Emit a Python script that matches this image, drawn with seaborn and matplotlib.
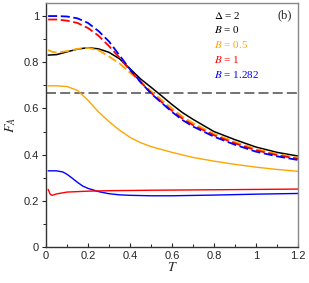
import numpy as np
import pandas as pd
import matplotlib
matplotlib.use("Agg")
import matplotlib.pyplot as plt
import seaborn as sns

# values
T_black = [0.01, 0.05, 0.1, 0.15, 0.2, 0.25, 0.3, 0.35, 0.4, 0.45, 0.5, 0.55,
           0.6, 0.65, 0.7, 0.8, 0.9, 1.0, 1.1, 1.2]
F_black = [0.831, 0.833, 0.845, 0.857, 0.863, 0.858, 0.843, 0.815, 0.772, 0.728,
           0.692, 0.655, 0.617, 0.582, 0.553, 0.5, 0.465, 0.433, 0.41, 0.394]

T_dash = [0.01, 0.05, 0.1, 0.15, 0.2, 0.25, 0.3, 0.35, 0.4, 0.45, 0.5, 0.55,
          0.6, 0.65, 0.7, 0.8, 0.9, 1.0, 1.1, 1.2]
F_blue_dash = [1.0, 1.0, 0.998, 0.99, 0.97, 0.935, 0.89, 0.83, 0.77, 0.715, 0.665,
               0.625, 0.585, 0.55, 0.522, 0.478, 0.443, 0.413, 0.393, 0.377]
F_red_dash = [0.985, 0.985, 0.98, 0.97, 0.948, 0.915, 0.87, 0.82, 0.765, 0.715,
              0.668, 0.628, 0.59, 0.556, 0.528, 0.484, 0.449, 0.419, 0.398, 0.382]

T_orange_dash = [0.01, 0.03, 0.05, 0.1, 0.15, 0.2, 0.25, 0.3, 0.35, 0.4, 0.45,
                 0.5, 0.55, 0.6, 0.65, 0.7, 0.8, 0.9, 1.0, 1.1, 1.2]
F_orange_dash = [0.853, 0.845, 0.842, 0.848, 0.858, 0.862, 0.852, 0.825, 0.795,
                 0.755, 0.715, 0.675, 0.638, 0.6, 0.565, 0.537, 0.49, 0.455,
                 0.425, 0.403, 0.387]

T_orange = [0.01, 0.05, 0.1, 0.15, 0.2, 0.25, 0.3, 0.35, 0.4, 0.45, 0.5, 0.6,
            0.7, 0.8, 0.9, 1.0, 1.1, 1.2]
F_orange = [0.698, 0.698, 0.695, 0.678, 0.635, 0.585, 0.543, 0.506, 0.475, 0.452,
            0.435, 0.41, 0.388, 0.372, 0.358, 0.346, 0.336, 0.328]

T_blue = [0.01, 0.05, 0.08, 0.1, 0.125, 0.15, 0.175, 0.2, 0.25, 0.3, 0.35, 0.4,
          0.5, 0.6, 0.8, 1.0, 1.2]
F_blue = [0.33, 0.33, 0.325, 0.315, 0.298, 0.28, 0.264, 0.254, 0.24, 0.231, 0.226,
          0.224, 0.222, 0.222, 0.225, 0.229, 0.232]

T_red = [0.01, 0.02, 0.03, 0.05, 0.1, 0.2, 0.3, 0.5, 0.8, 1.2]
F_red = [0.25, 0.228, 0.224, 0.23, 0.238, 0.242, 0.244, 0.246, 0.248, 0.251]

F_limit = 2 / 3

x_ticks = [0, 0.2, 0.4, 0.6, 0.8, 1.0, 1.2]
x_labels = ["0", "0.2", "0.4", "0.6", "0.8", "1", "1.2"]
y_ticks = [0, 0.2, 0.4, 0.6, 0.8, 1.0]
y_labels = ["0", "0.2", "0.4", "0.6", "0.8", "1"]

legend_lines = [(r"$\mathit{\Delta}$ = 2", "black"), (r"$B$ = 0", "black"),
                (r"$B$ = 0.5", "#FFA500"), (r"$B$ = 1", "red"),
                (r"$B$ = 1.282", "blue")]

sns.set_style("ticks")
plt.rcParams['font.family'] = ['Liberation Sans', 'DejaVu Sans']
plt.rcParams['mathtext.fontset'] = 'stix'

fig = plt.figure(figsize=(3.09, 2.83), dpi=100)
ax = fig.add_axes([0.149, 0.127, 0.815, 0.862])

ax.axhline(F_limit, color="#5a5a5a", lw=1.2, dashes=(6, 2.5))

def draw(T, F, color, dashed=False, lw=1.0):
    df = pd.DataFrame({"T": T, "F": F})
    sns.lineplot(data=df, x="T", y="F", ax=ax, color=color, lw=lw,
                 sort=False, estimator=None)
    if dashed:
        ax.lines[-1].set_dashes((5, 2))

draw(T_orange, F_orange, "#FFA500", lw=1.0)
draw(T_blue, F_blue, "blue", lw=1.0)
draw(T_red, F_red, "red", lw=1.0)
draw(T_black, F_black, "black", lw=1.1)
draw(T_orange_dash, F_orange_dash, "#FFA500", dashed=True, lw=1.3)
draw(T_dash, F_red_dash, "red", dashed=True, lw=1.3)
draw(T_dash, F_blue_dash, "blue", dashed=True, lw=1.3)

ax.set_xlim(0, 1.2)
ax.set_ylim(0, 1.056)
ax.set_xticks(x_ticks)
ax.set_xticklabels(x_labels)
ax.set_yticks(y_ticks)
ax.set_yticklabels(y_labels)
ax.set_xticks(np.arange(0.1, 1.2, 0.2), minor=True)
ax.set_yticks(np.arange(0.1, 1.0, 0.2), minor=True)
ax.tick_params(axis="x", direction="in", length=3, width=0.8, labelsize=8, pad=3)
ax.tick_params(axis="x", which="minor", direction="in", length=2, width=0.7)
ax.tick_params(axis="y", direction="out", length=3, width=0.8, labelsize=8, pad=2)
ax.tick_params(axis="y", which="minor", direction="out", length=2, width=0.7)

for side in ["left", "bottom"]:
    ax.spines[side].set_color("#333333")
    ax.spines[side].set_linewidth(1.0)
for side in ["top", "right"]:
    ax.spines[side].set_color("#888888")
    ax.spines[side].set_linewidth(1.0)

ax.set_xlabel(r"$T$", fontsize=10, labelpad=-1)
ax.set_ylabel(r"$F_A$", fontsize=10, labelpad=4)

y0 = 0.951
for i, (txt, col) in enumerate(legend_lines):
    ax.text(0.667, y0 - i * 0.061, txt, color=col, transform=ax.transAxes,
            fontsize=8, va="center", ha="left", family="Liberation Serif")
ax.text(0.948, 0.951, "(b)", transform=ax.transAxes, fontsize=9,
        va="center", ha="center", family="Liberation Serif")

fig.savefig("out.png", dpi=100)
